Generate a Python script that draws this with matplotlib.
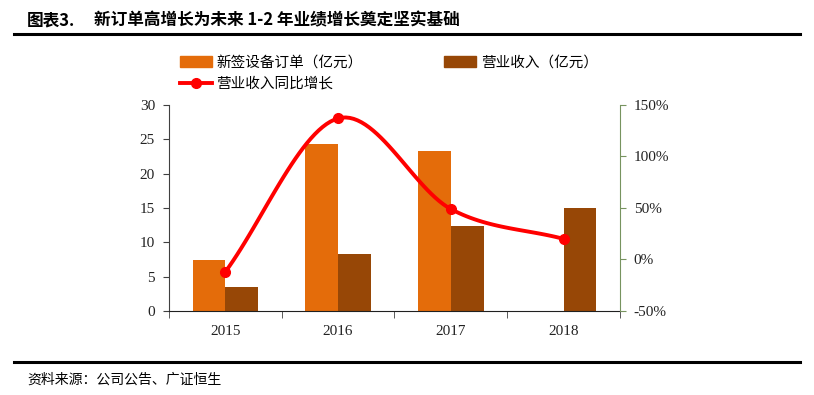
import numpy as np
import matplotlib.pyplot as plt
from matplotlib.lines import Line2D
from matplotlib.patches import Patch

plt.rcParams['font.family'] = ['Noto Sans CJK SC', 'DejaVu Sans']

years = ['2015', '2016', '2017', '2018']
orders = [7.4, 24.3, 23.3, np.nan]      # 新签设备订单（亿元）
revenue = [3.5, 8.3, 12.4, 15.0]        # 营业收入（亿元）
growth = [-12, 137, 49, 20]             # 营业收入同比增长 (%)

c_orders = '#E46C0A'
c_rev = '#974706'
serif = ['Liberation Serif', 'DejaVu Serif']

fig = plt.figure(figsize=(8.14, 3.95), dpi=100)
ax = fig.add_axes([0.2076, 0.2127, 0.554, 0.5215])
ax2 = ax.twinx()

x = np.arange(len(years))
w = 0.29
ax.bar(x - w / 2, orders, w, color=c_orders, zorder=2)
ax.bar(x + w / 2, revenue, w, color=c_rev, zorder=2)
ax.set_xlim(-0.5, 3.5)
ax.set_ylim(0, 30)
ax.set_yticks(range(0, 31, 5))

# smoothed line (Catmull-Rom through the data points)
gx = x.astype(float)
gy = np.array(growth, dtype=float)
px = np.concatenate([[2 * gx[0] - gx[1]], gx, [2 * gx[-1] - gx[-2]]])
py = np.concatenate([[2 * gy[0] - gy[1]], gy, [2 * gy[-1] - gy[-2]]])
sx, sy = [], []
for i in range(1, len(px) - 2):
    t = np.linspace(0, 1, 30)
    for arr, out in ((px, sx), (py, sy)):
        p0, p1, p2, p3 = arr[i - 1], arr[i], arr[i + 1], arr[i + 2]
        out.extend(0.5 * (2 * p1 + (-p0 + p2) * t + (2 * p0 - 5 * p1 + 4 * p2 - p3) * t ** 2
                          + (-p0 + 3 * p1 - 3 * p2 + p3) * t ** 3))
ax2.plot(sx, sy, color='#FF0000', lw=2.8, zorder=3)
ax2.plot(gx, gy, 'o', color='#FF0000', ms=7, zorder=4)
ax2.set_ylim(-50, 150)
ax2.set_yticks(range(-50, 151, 50))
ax2.set_yticklabels([f'{v}%' for v in range(-50, 151, 50)])

ax.set_xticks(x)
ax.set_xticklabels(years)
ax.set_xticks(np.arange(-0.5, 4, 1), minor=True)
ax.tick_params(axis='x', which='major', length=0, pad=10)
ax.tick_params(axis='x', which='minor', length=5, direction='out', color='#404040')
for a in (ax, ax2):
    a.spines['top'].set_visible(False)
ax.spines['right'].set_visible(False)
ax.spines['left'].set_color('#404040')
ax.spines['bottom'].set_color('#202020')
ax2.spines['left'].set_visible(False)
ax2.spines['bottom'].set_visible(False)
ax2.spines['right'].set_color('#77935F')
ax.tick_params(axis='y', length=4, color='#404040', pad=6)
ax2.tick_params(axis='y', length=4, color='#77935F', pad=6)
for lab in ax.get_xticklabels() + ax.get_yticklabels() + ax2.get_yticklabels():
    lab.set_fontfamily(serif)
    lab.set_fontsize(11)
    lab.set_color('#222222')

# legend
h1 = Patch(color=c_orders)
h2 = Patch(color=c_rev)
h3 = Line2D([], [], color='#FF0000', lw=2.8, marker='o', ms=7)
fig.legend([h1, h2], ['新签设备订单（亿元）', '营业收入（亿元）'], loc='upper left',
           bbox_to_anchor=(0.214, 0.875), ncol=2, frameon=False, fontsize=10.5,
           handlelength=2.2, handleheight=0.8, columnspacing=5.6, handletextpad=0.3,
           borderaxespad=0)
fig.legend([h3], ['营业收入同比增长'], loc='upper left',
           bbox_to_anchor=(0.214, 0.82), frameon=False, fontsize=10.5,
           handlelength=2.2, handletextpad=0.3, borderaxespad=0)

# title and source
fig.text(0.033, 0.948, '图表3.', fontsize=12, fontweight='bold', va='center')
fig.text(0.116, 0.948, '新订单高增长为未来 1-2 年业绩增长奠定坚实基础', fontsize=12,
         fontweight='bold', va='center')
fig.add_artist(Line2D([0.017, 0.983], [0.915, 0.915], color='black', lw=2.2))
fig.add_artist(Line2D([0.017, 0.983], [0.083, 0.083], color='black', lw=2.2))
fig.text(0.033, 0.038, '资料来源：公司公告、广证恒生', fontsize=10, va='center')

fig.savefig('out.png', dpi=100)
